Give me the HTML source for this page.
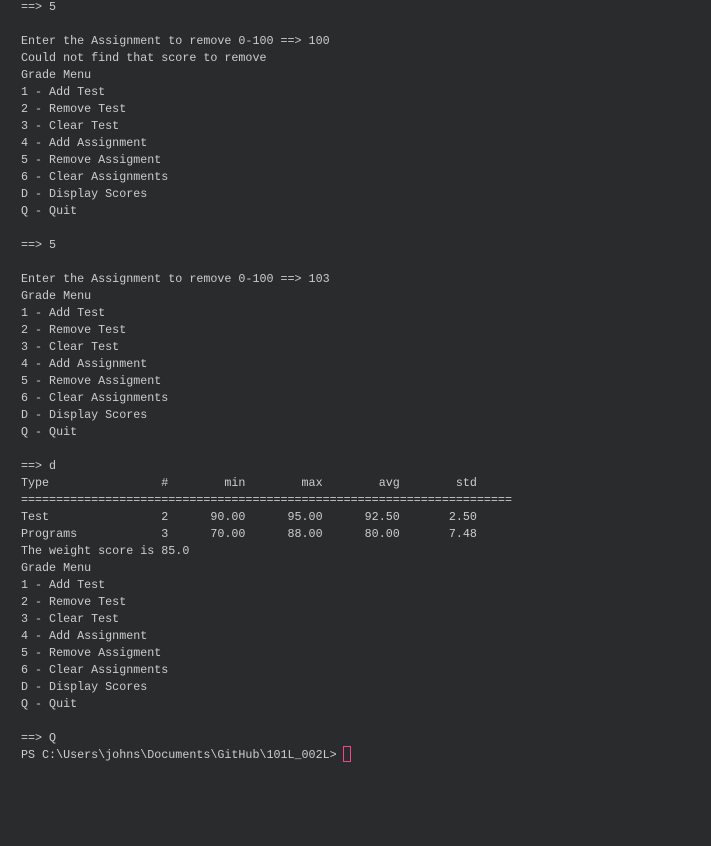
<!DOCTYPE html>
<html><head><meta charset="utf-8"><style>
html,body{margin:0;padding:0;background:#2a2b2d;width:711px;height:846px;overflow:hidden}
pre{position:absolute;left:21px;top:-1px;margin:0;font-family:"Liberation Mono",monospace;font-size:11.7px;line-height:17px;color:#cccccc}
.cur{position:absolute;left:343px;top:746px;width:6px;height:14px;border:1px solid #f0478a}
</style></head><body>
<pre>==&gt; 5

Enter the Assignment to remove 0-100 ==&gt; 100
Could not find that score to remove
Grade Menu
1 - Add Test
2 - Remove Test
3 - Clear Test
4 - Add Assignment
5 - Remove Assigment
6 - Clear Assignments
D - Display Scores
Q - Quit

==&gt; 5

Enter the Assignment to remove 0-100 ==&gt; 103
Grade Menu
1 - Add Test
2 - Remove Test
3 - Clear Test
4 - Add Assignment
5 - Remove Assigment
6 - Clear Assignments
D - Display Scores
Q - Quit

==&gt; d
Type                #        min        max        avg        std
======================================================================
Test                2      90.00      95.00      92.50       2.50
Programs            3      70.00      88.00      80.00       7.48
The weight score is 85.0
Grade Menu
1 - Add Test
2 - Remove Test
3 - Clear Test
4 - Add Assignment
5 - Remove Assigment
6 - Clear Assignments
D - Display Scores
Q - Quit

==&gt; Q
PS C:\Users\johns\Documents\GitHub\101L_002L&gt; </pre>
<div class="cur"></div>
</body></html>
